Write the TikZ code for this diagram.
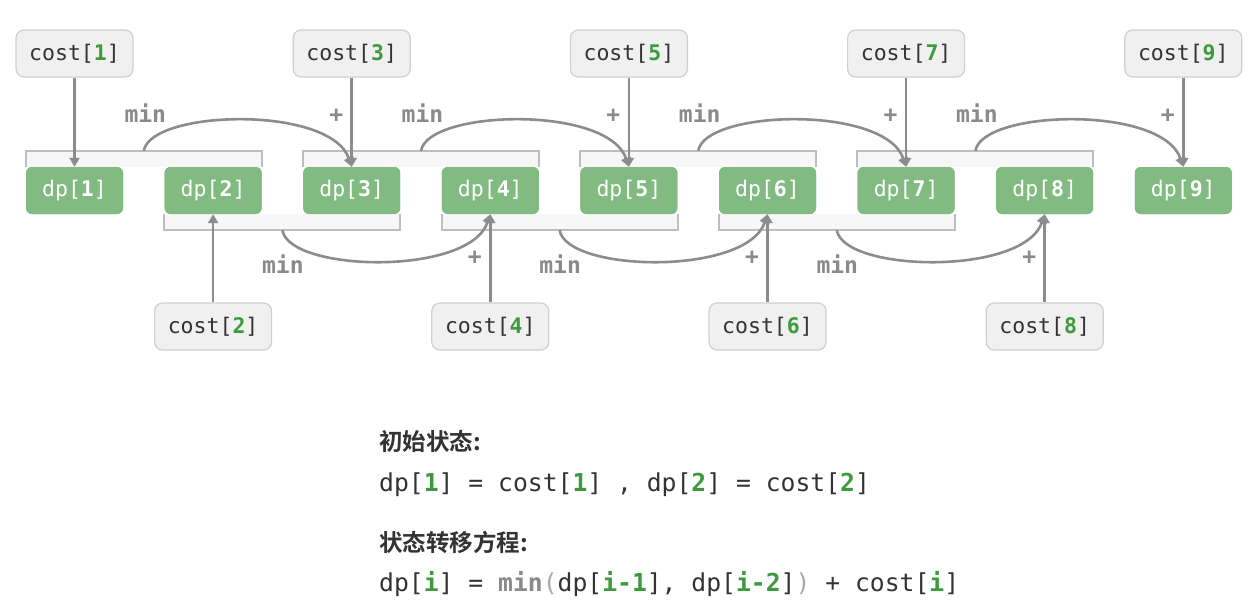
\documentclass[tikz,border=0pt]{standalone}
\usepackage{fontspec}
\setmonofont{DejaVu Sans Mono}
\newfontfamily\cjk[BoldFont={Noto Sans CJK SC Bold}]{Noto Sans CJK SC}
\usetikzlibrary{arrows.meta,calc}
\definecolor{dpgreen}{HTML}{82BB82}
\definecolor{numgreen}{HTML}{3D9A3D}
\definecolor{boxfill}{HTML}{F0F0F0}
\definecolor{boxline}{HTML}{D0D0D0}
\definecolor{arrowgray}{HTML}{8C8C8C}
\definecolor{brfill}{HTML}{F7F7F7}
\definecolor{brline}{HTML}{BEBEBE}
\definecolor{txt}{HTML}{333333}
\definecolor{lblgray}{HTML}{8A8A8A}
\definecolor{pargray}{HTML}{A8A8A8}
\newcommand\gn[1]{\textcolor{numgreen}{\textbf{#1}}}
\begin{document}
\begin{tikzpicture}[x=1pt,y=-1pt,
  dpnode/.style={fill=dpgreen, rounded corners=6pt, minimum width=97pt, minimum height=47pt,
    text=white, font=\ttfamily\fontsize{21.5}{21.5}\selectfont, inner sep=0pt},
  costnode/.style={fill=boxfill, draw=boxline, line width=1.2pt, rounded corners=8pt,
    minimum width=117pt, minimum height=47pt, text=txt,
    font=\ttfamily\fontsize{21.5}{21.5}\selectfont, inner sep=0pt},
  arrowline/.style={draw=arrowgray, line width=2.6pt,
    -{Triangle[length=9pt,width=10pt]}},
  lbl/.style={text=lblgray, font=\ttfamily\bfseries\fontsize{23}{23}\selectfont, inner sep=0pt},
  brk/.style={draw=brline, line width=2pt},
  bodytext/.style={anchor=west, text=txt, inner sep=0pt, font=\ttfamily\fontsize{24.7}{24.7}\selectfont},
  headtext/.style={anchor=west, text=txt, inner sep=0pt, font=\cjk\bfseries\fontsize{23.5}{23.5}\selectfont}
]
\fill[white] (0,0) rectangle (1260,613);
\useasboundingbox (0,0) rectangle (1260,613);

% dp nodes
\foreach \i in {1,...,9}{
  \node[dpnode] (d\i) at ({74.5+138.6*(\i-1)},190.5) {dp[\textbf{\i}]};
}

% upper brackets (pairs 1-2, 3-4, 5-6, 7-8)
\foreach \a/\b in {1/2,3/4,5/6,7/8}{
  \fill[brfill] ([yshift=16pt]d\a.north west) rectangle (d\b.north east);
  \draw[brk] (d\a.north west) -- ([yshift=16pt]d\a.north west) -- ([yshift=16pt]d\b.north east) -- (d\b.north east);
  \coordinate (bu\a) at ($([yshift=16pt]d\a.north west)!0.5!([yshift=16pt]d\b.north east)$);
}
% lower brackets (pairs 2-3, 4-5, 6-7)
\foreach \a/\b in {2/3,4/5,6/7}{
  \fill[brfill] (d\a.south west) rectangle ([yshift=-16pt]d\b.south east);
  \draw[brk] (d\a.south west) -- ([yshift=-16pt]d\a.south west) -- ([yshift=-16pt]d\b.south east) -- (d\b.south east);
  \coordinate (bl\a) at ($([yshift=-16pt]d\a.south west)!0.5!([yshift=-16pt]d\b.south east)$);
}

% redraw dp nodes on top
\foreach \i in {1,...,9}{
  \node[dpnode] at (d\i) {dp[\textbf{\i}]};
}

% cost nodes
\foreach \i in {1,3,5,7,9}{
  \node[costnode] (c\i) at ({74.5+138.6*(\i-1)},53.5) {cost[\gn{\i}]};
  \draw[arrowline] (c\i.south) -- (d\i.north);
}
\foreach \i in {2,4,6,8}{
  \node[costnode] (c\i) at ({74.5+138.6*(\i-1)},326.5) {cost[\gn{\i}]};
  \draw[arrowline] (c\i.north) -- (d\i.south);
}

% upper min arcs
\foreach \a/\t in {1/3,3/5,5/7,7/9}{
  \draw[arrowline] (bu\a) .. controls +(7,-41) and +(-21,-62) .. (d\t.north);
  \node[lbl] (mu\a) at ($(bu\a)+(1.5,-38)$) {min};
  \node[lbl] (pu\t) at ($(d\t.north)+(-15.5,-51)$) {+};
}
% lower min arcs
\foreach \a/\t in {2/4,4/6,6/8}{
  \draw[arrowline] (bl\a) .. controls +(7,42) and +(-21,62) .. (d\t.south);
  \node[lbl] (ml\a) at ($(bl\a)+(0.5,34)$) {min};
  \node[lbl] (pl\t) at ($(d\t.south)+(-15.5,44)$) {+};
}

% bottom text
\node[headtext] (h1) at (379,441) {初始状态:};
\node[bodytext] (l1) at (379,485) {dp[\gn{1}] = cost[\gn{1}] , dp[\gn{2}] = cost[\gn{2}]};
\node[headtext] (h2) at (379,542) {状态转移方程:};
\node[bodytext] (l2) at (379,584) {dp[\gn{i}] = \textcolor{lblgray}{\textbf{min}}\textcolor{pargray}{(}dp[\gn{i-1}], dp[\gn{i-2}]\textcolor{pargray}{)} + cost[\gn{i}]};
\end{tikzpicture}
\end{document}
